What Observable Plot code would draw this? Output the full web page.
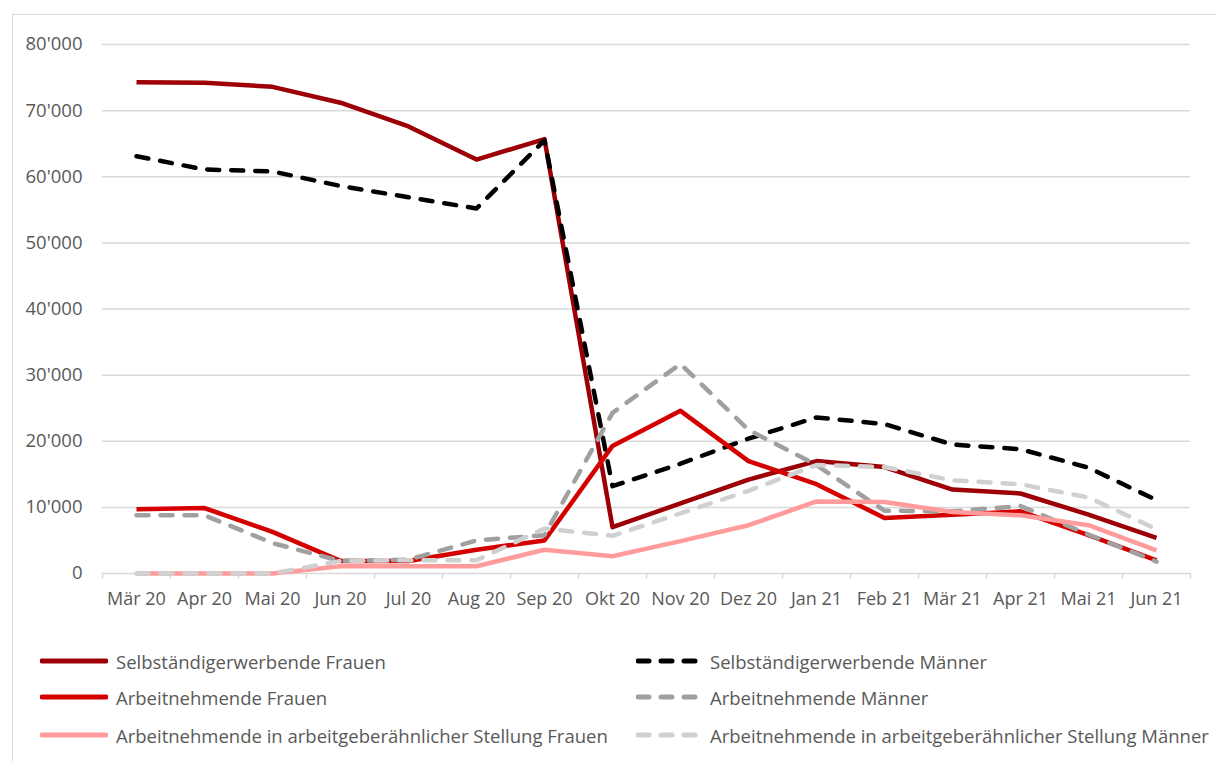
<!DOCTYPE html>
<html>
<head>
<meta charset="utf-8">
<script src="https://cdn.jsdelivr.net/npm/d3@7"></script>
<script src="https://cdn.jsdelivr.net/npm/@observablehq/plot@0.6"></script>
<style>
  html, body { margin: 0; padding: 0; background: #fff; }
  body { width: 1216px; height: 761px; position: relative; overflow: hidden; font-family: "Open Sans", Lato, sans-serif; }
  #frame { position: absolute; left: 12px; top: 14px; width: 1210px; height: 760px; border: 1px solid #d9d9d9; box-sizing: border-box; }
  #chart { position: absolute; left: 0; top: 0; }
  #legend { position: absolute; left: 0; top: 620px; width: 1216px; height: 141px; }
  .item { position: absolute; display: flex; align-items: center; font-size: 18.5px; color: #595959; white-space: nowrap; }
  .item svg { margin-right: 8px; }
</style>
</head>
<body>
<div id="frame"></div>
<div id="chart"></div>
<div id="legend"></div>
<script>
const months = ["Mär 20","Apr 20","Mai 20","Jun 20","Jul 20","Aug 20","Sep 20","Okt 20","Nov 20","Dez 20","Jan 21","Feb 21","Mär 21","Apr 21","Mai 21","Jun 21"];
const seriesNames = [
  "Selbständigerwerbende Frauen",
  "Selbständigerwerbende Männer",
  "Arbeitnehmende Frauen",
  "Arbeitnehmende Männer",
  "Arbeitnehmende in arbeitgeberähnlicher Stellung Frauen",
  "Arbeitnehmende in arbeitgeberähnlicher Stellung Männer"
];
const selbFrauen  = [74300,74200,73600,71200,67600,62600,65700, 7000,10600,14200,17000,16100,12700,12100, 8900, 5400];
const selbMaenner = [63100,61100,60800,58600,56900,55200,65500,13200,16600,20400,23600,22600,19500,18800,16000,11100];
const arbFrauen   = [ 9700, 9900, 6300, 1900, 1900, 3600, 5000,19300,24600,17000,13500, 8400, 8900, 9400, 5800, 2000];
const arbMaenner  = [ 8800, 8800, 4600, 1900, 2100, 5000, 5800,24300,31700,21700,16400, 9500, 9400,10200, 5900, 1800];
const agFrauen    = [    0,    0,    0, 1100, 1100, 1100, 3600, 2600, 4900, 7300,10900,10800, 9300, 8800, 7300, 3500];
const agMaenner   = [    0,    0,    0, 1900, 2000, 2000, 6800, 5700, 9100,12500,16400,16100,14100,13500,11500, 6700];
const yTicks = [0,10000,20000,30000,40000,50000,60000,70000,80000];

const seriesValues = [selbFrauen, selbMaenner, arbFrauen, arbMaenner, agFrauen, agMaenner];
const seriesColors = ["#9c0006", "#000000", "#d40000", "#a0a0a0", "#ff9b9b", "#d0d0d0"];
const seriesDash   = [null, "12,12", null, "12,12", null, "12,12"];

const rows = [];
seriesNames.forEach((name, s) => {
  seriesValues[s].forEach((v, i) => rows.push({series: name, idx: i, value: v}));
});

const loc = d3.formatLocale({decimal: ".", thousands: "'", grouping: [3], currency: ["", ""]});
const fmt = loc.format(",");

const boundaries = d3.range(-0.5, months.length, 1);

const lineMarks = seriesNames.map((name, s) => Plot.line(rows.filter(r => r.series === name), {
  x: "idx", y: "value",
  stroke: seriesColors[s],
  strokeWidth: 4.5,
  strokeDasharray: seriesDash[s] || undefined,
  strokeLinecap: seriesDash[s] ? "round" : "butt",
  strokeLinejoin: "round"
}));

const chart = Plot.plot({
  width: 1216,
  height: 620,
  marginLeft: 102,
  marginRight: 26,
  marginTop: 44,
  marginBottom: 47,
  style: {fontFamily: "'Open Sans', Lato, sans-serif", fontSize: "18.5px", color: "#595959", background: "transparent"},
  x: {domain: [-0.5, months.length - 0.5], axis: null, label: null},
  y: {domain: [0, 80000], axis: null, label: null},
  marks: [
    Plot.gridY(yTicks.filter(t => t > 0), {stroke: "#d9d9d9", strokeOpacity: 1, strokeWidth: 1.5}),
    Plot.axisY(yTicks, {tickSize: 0, tickPadding: 20, tickFormat: fmt, fontSize: 18.5, fill: "#595959", label: null}),
    Plot.ruleY([0], {stroke: "#d9d9d9", strokeWidth: 1.5}),
    Plot.axisX(boundaries, {tickSize: 6, tickFormat: () => "", stroke: "#d9d9d9", strokeWidth: 1.5, label: null}),
    Plot.axisX(d3.range(months.length), {tickSize: 0, tickPadding: 19, tickFormat: i => months[i], fontSize: 18, fill: "#595959", label: null}),
    ...lineMarks
  ]
});
document.getElementById("chart").appendChild(chart);

// Legend (two columns, three rows)
const legend = document.getElementById("legend");
const colX = [40, 636];
const rowY = [41, 77, 115];
const order = [[0,1],[2,3],[4,5]];
order.forEach((pair, r) => {
  pair.forEach((s, c) => {
    const item = document.createElement("div");
    item.className = "item";
    item.style.left = colX[c] + "px";
    item.style.top = (rowY[r] - 12) + "px";
    item.style.height = "24px";
    const w = c === 0 ? 68 : 66;
    const dash = seriesDash[s];
    item.innerHTML = `<svg width="${w}" height="10"><line x1="2" x2="${w - 2}" y1="5" y2="5" stroke="${seriesColors[s]}" stroke-width="5" stroke-linecap="round" ${dash ? 'stroke-dasharray="11,12"' : ''}/></svg><span>${seriesNames[s]}</span>`;
    legend.appendChild(item);
  });
});
</script>
</body>
</html>
